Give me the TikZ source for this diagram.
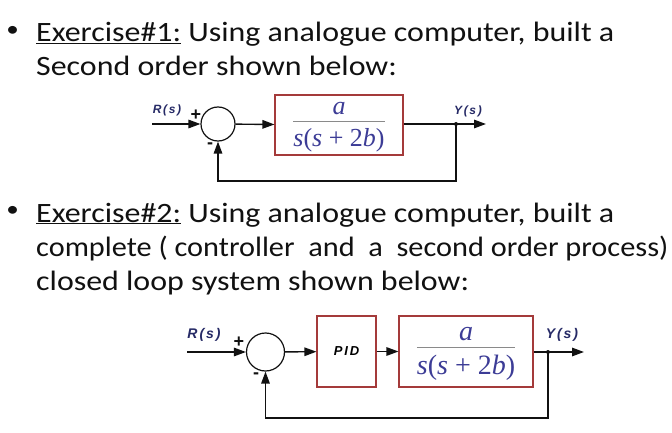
\documentclass[tikz,border=0pt]{standalone}
\usepackage{fontspec}
\setmainfont{Carlito}[FakeStretch=1.14]
\newfontfamily\lblfont[LetterSpace=14]{Liberation Sans}
\newfontfamily\fracfont{Liberation Serif}
\usetikzlibrary{arrows.meta,positioning}
\definecolor{ink}{HTML}{111111}
\definecolor{navy}{HTML}{262A66}
\definecolor{fracblue}{HTML}{3C3C96}
\definecolor{boxred}{HTML}{A43A3A}
\definecolor{rulegray}{HTML}{8A8A8A}
\setlength{\arrayrulewidth}{0.7pt}
\newcommand{\gfrac}[2]{{\color{rulegray}\begin{tabular}{@{}c@{}}\color{fracblue}#1\\[-2pt]\hline\rule{0pt}{0.95em}\color{fracblue}#2\end{tabular}}}
\newcommand{\pden}{\textit{s}(\textit{s} + 2\textit{b})}
\tikzset{
  bullettext/.style={anchor=base west,inner sep=0,font=\fontsize{28}{30}\selectfont,text=ink},
  bulletmark/.style={inner sep=0,font=\fontsize{22}{24}\selectfont,text=ink},
  sumnode/.style={circle,draw=ink,line width=1.2pt,inner sep=0},
  block/.style={rectangle,draw=boxred,line width=1.1pt,fill=white,inner sep=0,font=\fracfont},
  sig/.style={line width=1.4pt,draw=ink,-{Triangle[length=12pt,width=8.5pt]}},
  siglabel/.style={text=navy,inner sep=0},
  signmark/.style={font=\lblfont\bfseries\fontsize{18}{18}\selectfont,text=ink,inner sep=0},
  tap/.style={circle,fill=ink,inner sep=0,minimum size=4pt}
}
\begin{document}
\begin{tikzpicture}[x=1pt,y=-1pt]
\useasboundingbox[fill=white] (0,0) rectangle (672,433);

% exercise 1 text
\node[bulletmark] (b1) at (12.5,31) {•};
\node[bullettext] (t1a) at (36,42) {\underline{Exercise\#1:} Using analogue computer, built a};
\node[bullettext] (t1b) at (36,76) {Second order shown below:};

% exercise 1 loop
\coordinate (in1) at (152,124);
\node[sumnode,minimum size=34pt] (sum1) at (218,124) {};
\node[block,minimum width=128pt,minimum height=60pt,font=\fracfont\fontsize{26}{28}\selectfont] (plant1) at (339,125) {\gfrac{\textit{a}}{\pden}};
\node[tap] (tap1) at (456,124) {};
\coordinate (out1) at (486,124);
\coordinate (fb1) at (218,181);
\node[siglabel,font=\lblfont\bfseries\itshape\fontsize{12}{13}\selectfont] (r1) at (167,110) {R(s)};
\node[siglabel,font=\lblfont\bfseries\itshape\fontsize{12}{13}\selectfont] (y1) at (468,111) {Y(s)};
\node[signmark] (p1) at (196,115) {+};
\node[signmark] (m1) at (210,146) {-};
\draw[sig] (in1) -- (sum1);
\draw[sig] (sum1) -- (plant1);
\draw[sig] (plant1.east |- tap1) -- (out1);
\draw[sig] (tap1.center) |- (fb1) -- (sum1.south);

% exercise 2 text
\node[bulletmark] (b2) at (12.5,211) {•};
\node[bullettext] (t2a) at (36,222) {\underline{Exercise\#2:} Using analogue computer, built a};
\node[bullettext] (t2b) at (36,256) {\scalebox{0.95}[1]{complete ( controller \ and \ a \ second order process)}};
\node[bullettext] (t2c) at (36,290) {closed loop system shown below:};

% exercise 2 loop
\coordinate (in2) at (187,352);
\node[sumnode,minimum size=38pt] (sum2) at (265.5,352) {};
\node[block,minimum width=59pt,minimum height=71pt,font=\lblfont\bfseries\itshape\fontsize{13}{14}\selectfont] (pid) at (346.5,351.5) {PID};
\node[block,minimum width=134pt,minimum height=71pt,font=\fracfont\fontsize{28}{30}\selectfont] (plant2) at (466,351.5) {\gfrac{\textit{a}}{\pden}};
\node[tap] (tap2) at (548,352) {};
\coordinate (out2) at (584,352);
\coordinate (fb2) at (265.5,418);
\node[siglabel,font=\lblfont\bfseries\itshape\fontsize{14}{15}\selectfont] (r2) at (204,335) {R(s)};
\node[siglabel,font=\lblfont\bfseries\itshape\fontsize{14}{15}\selectfont] (y2) at (562,335) {Y(s)};
\node[signmark] (p2) at (239,342) {+};
\node[signmark] (m2) at (256,376) {-};
\draw[sig] (in2) -- (sum2);
\draw[sig] (sum2) -- (pid);
\draw[sig] (pid) -- (plant2);
\draw[sig] (plant2.east |- tap2) -- (out2);
\draw[sig] (tap2.center) |- (fb2) -- (sum2.south);
\end{tikzpicture}
\end{document}
